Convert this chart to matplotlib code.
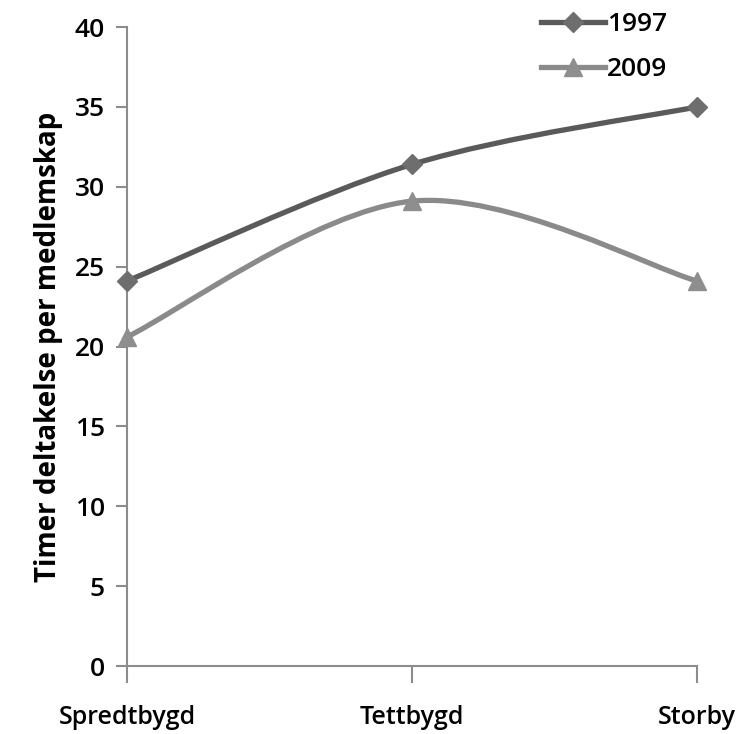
import numpy as np
import matplotlib
matplotlib.use("Agg")
import matplotlib.pyplot as plt
from matplotlib.path import Path
from matplotlib.patches import PathPatch
from matplotlib.lines import Line2D

categories = ["Spredtbygd", "Tettbygd", "Storby"]
v1997 = [24.1, 31.4, 35.0]
v2009 = [20.6, 29.1, 24.1]

plt.rcParams['font.family'] = ['Open Sans', 'DejaVu Sans']

fig = plt.figure(figsize=(7.44, 7.34), dpi=100)
ax = fig.add_axes([0.1707, 0.0926, 0.7661, 0.8706])

def smooth_path(xs, ys):
    # Excel-style smoothed line: cubic bezier through the points
    pts = np.column_stack([xs, ys]).astype(float)
    n = len(pts)
    verts = [pts[0]]
    codes = [Path.MOVETO]
    for i in range(n - 1):
        p0 = pts[i - 1] if i > 0 else pts[i]
        p1 = pts[i]
        p2 = pts[i + 1]
        p3 = pts[i + 2] if i + 2 < n else pts[i + 1]
        c1 = p1 + (p2 - p0) / 6
        c2 = p2 - (p3 - p1) / 6
        verts += [c1, c2, p2]
        codes += [Path.CURVE4] * 3
    return Path(verts, codes)

x = np.arange(len(categories))
series = [("1997", v1997, "#5a5a5a", "#6e6e6e", "D", 10),
          ("2009", v2009, "#8a8a8a", "#8e8e8e", "^", 13)]
handles = []
for name, vals, lc, mc, mk, ms in series:
    ax.add_patch(PathPatch(smooth_path(x, vals), fill=False, edgecolor=lc, lw=3.8,
                           capstyle='round', zorder=2))
    ax.plot(x, vals, ls='none', marker=mk, ms=ms, color=mc, zorder=3, clip_on=False)
    handles.append(Line2D([], [], color=lc, lw=3.8, marker=mk, ms=ms, mfc=mc, mec=mc))

ax.set_xlim(0, 2)
ax.set_ylim(0, 40)
ax.set_yticks(range(0, 41, 5))
ax.set_xticks(x)
ax.set_xticklabels(categories)
for s in ["top", "right"]:
    ax.spines[s].set_visible(False)
for s in ["left", "bottom"]:
    ax.spines[s].set_color("#8c8c8c")
    ax.spines[s].set_linewidth(1.5)
ax.tick_params(axis='y', direction='out', length=8, width=1.5, color="#8c8c8c",
               labelsize=19, pad=8)
ax.tick_params(axis='x', direction='out', length=12, width=1.5, color="#8c8c8c",
               labelsize=18, pad=16)
for t in ax.get_xticklabels() + ax.get_yticklabels():
    t.set_fontweight('semibold')
ax.set_ylabel("Timer deltakelse per medlemskap", fontsize=20, fontweight='bold', labelpad=8)

leg = ax.legend(handles, ["1997", "2009"], loc='upper left', bbox_to_anchor=(0.685, 1.06),
                frameon=False, prop={'size': 19, 'weight': 'semibold'},
                handlelength=2.4, handletextpad=0.1, labelspacing=0.75)

fig.savefig("out.png", dpi=100)
